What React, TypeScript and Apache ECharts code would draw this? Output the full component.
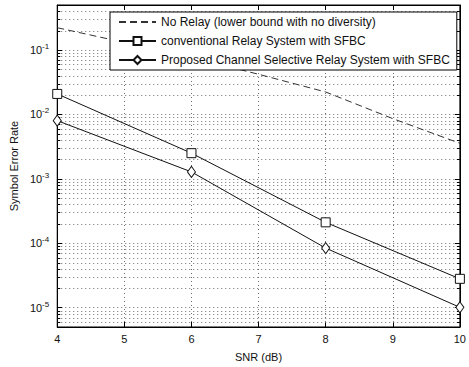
import React, { useEffect, useRef } from "react";
import * as echarts from "echarts";

const snr = [4, 5, 6, 7, 8, 9, 10];
const noRelay = [0.222, 0.131, 0.077, 0.042, 0.0223, 0.0086, 0.00356];
const snrMarked = [4, 6, 8, 10];
const conventional = [0.0208, 0.0025, 0.000211, 0.000028];
const proposed = [0.008, 0.00128, 0.000084, 0.0000101];
const seriesNames = [
  "No Relay (lower bound with no diversity)",
  "conventional Relay System with SFBC",
  "Proposed Channel Selective Relay System with SFBC",
];
const yMin = 5e-6;
const yMax = 0.5;
const minorGrid = [
  6e-6, 7e-6, 8e-6, 9e-6,
  2e-5, 3e-5, 4e-5, 5e-5, 6e-5, 7e-5, 8e-5, 9e-5,
  2e-4, 3e-4, 4e-4, 5e-4, 6e-4, 7e-4, 8e-4, 9e-4,
  2e-3, 3e-3, 4e-3, 5e-3, 6e-3, 7e-3, 8e-3, 9e-3,
  2e-2, 3e-2, 4e-2, 5e-2, 6e-2, 7e-2, 8e-2, 9e-2,
  2e-1, 3e-1, 4e-1,
];

const FONT = "Liberation Sans, Arial, sans-serif";
const DOT = [1, 3];
const GRID_COLOR = "#6e6e6e";

export default function App() {
  const ref = useRef<HTMLDivElement>(null);
  useEffect(() => {
    if (!ref.current) return;
    const chart = echarts.init(ref.current, undefined, { renderer: "svg" });
    const gridLine = { show: true, lineStyle: { color: GRID_COLOR, type: DOT, width: 1 } };
    const tick = { show: true, inside: true, length: 5, lineStyle: { color: "#000" } };
    chart.setOption({
      animation: false,
      backgroundColor: "#fff",
      textStyle: { fontFamily: FONT },
      grid: { left: 57, right: 6, top: 5, bottom: 36, show: true, borderColor: "#000", borderWidth: 1 },
      legend: {
        orient: "vertical",
        left: 110,
        top: 12,
        padding: [4, 7, 4, 8],
        itemWidth: 37,
        itemHeight: 10,
        itemGap: 7,
        backgroundColor: "#fff",
        borderColor: "#000",
        borderWidth: 1,
        textStyle: { fontFamily: FONT, fontSize: 12, color: "#111", lineHeight: 12 },
        data: seriesNames,
      },
      xAxis: [
        {
          type: "value",
          min: snr[0],
          max: snr[snr.length - 1],
          interval: 1,
          name: "SNR (dB)",
          nameLocation: "middle",
          nameGap: 24,
          nameTextStyle: { fontFamily: FONT, fontSize: 11, color: "#111" },
          axisLine: { show: true, lineStyle: { color: "#000" } },
          axisTick: tick,
          axisLabel: { fontFamily: FONT, fontSize: 11, color: "#111", margin: 6 },
          splitLine: gridLine,
        },
        {
          type: "value",
          position: "top",
          min: snr[0],
          max: snr[snr.length - 1],
          interval: 1,
          axisLine: { show: true, lineStyle: { color: "#000" } },
          axisTick: tick,
          axisLabel: { show: false },
          splitLine: { show: false },
        },
      ],
      yAxis: [
        {
          type: "log",
          min: yMin,
          max: yMax,
          name: "Symbol Error Rate",
          nameLocation: "middle",
          nameGap: 34,
          nameTextStyle: { fontFamily: FONT, fontSize: 11, color: "#111" },
          axisLine: { show: true, lineStyle: { color: "#000" } },
          axisTick: tick,
          axisLabel: {
            margin: 8,
            showMinLabel: false,
            showMaxLabel: false,
            formatter: (v: number) => {
              const l = Math.log10(v);
              const e = Math.round(l);
              if (Math.abs(l - e) > 1e-6) return "";
              return `{b|10}{s|${e}}`;
            },
            rich: {
              b: { fontFamily: FONT, fontSize: 11, color: "#111" },
              s: { fontFamily: FONT, fontSize: 8, color: "#111", padding: [0, 0, 7, 0] },
            },
          },
          splitLine: gridLine,
        },
        {
          type: "log",
          position: "right",
          min: yMin,
          max: yMax,
          axisLine: { show: true, lineStyle: { color: "#000" } },
          axisTick: tick,
          axisLabel: { show: false },
          splitLine: { show: false },
        },
      ],
      series: [
        {
          type: "custom",
          silent: true,
          z: 1,
          data: minorGrid.map((v) => [snr[0], v]),
          encode: { x: 0, y: 1 },
          renderItem: (params: any, api: any) => {
            const cs = params.coordSys;
            const p = api.coord([api.value(0), api.value(1)]);
            const y = Math.round(p[1]) + 0.5;
            return {
              type: "group",
              children: [
                {
                  type: "line",
                  shape: { x1: cs.x, y1: y, x2: cs.x + cs.width, y2: y },
                  style: { stroke: GRID_COLOR, lineWidth: 1, lineDash: DOT },
                },
                {
                  type: "line",
                  shape: { x1: cs.x, y1: y, x2: cs.x + 3, y2: y },
                  style: { stroke: "#000", lineWidth: 1 },
                },
                {
                  type: "line",
                  shape: { x1: cs.x + cs.width - 3, y1: y, x2: cs.x + cs.width, y2: y },
                  style: { stroke: "#000", lineWidth: 1 },
                },
              ],
            };
          },
        },
        {
          name: seriesNames[0],
          type: "line",
          z: 3,
          data: snr.map((x, i) => [x, noRelay[i]]),
          showSymbol: false,
          symbol: "none",
          clip: false,
          lineStyle: { color: "#333", width: 1, type: [7, 4] },
          itemStyle: { color: "rgba(0,0,0,0)", borderColor: "rgba(0,0,0,0)", borderWidth: 0 },
        },
        {
          name: seriesNames[1],
          type: "line",
          z: 3,
          data: snrMarked.map((x, i) => [x, conventional[i]]),
          symbol: "rect",
          symbolSize: 9,
          clip: false,
          lineStyle: { color: "#111", width: 1 },
          itemStyle: { color: "#fff", borderColor: "#111", borderWidth: 1 },
        },
        {
          name: seriesNames[2],
          type: "line",
          z: 3,
          data: snrMarked.map((x, i) => [x, proposed[i]]),
          symbol: "diamond",
          symbolSize: [8, 11],
          clip: false,
          lineStyle: { color: "#111", width: 1 },
          itemStyle: { color: "#fff", borderColor: "#111", borderWidth: 1 },
        },
      ],
    });
    return () => chart.dispose();
  }, []);
  return <div ref={ref} style={{ width: 469, height: 367, position: "absolute", left: 0, top: 0 }} />;
}
